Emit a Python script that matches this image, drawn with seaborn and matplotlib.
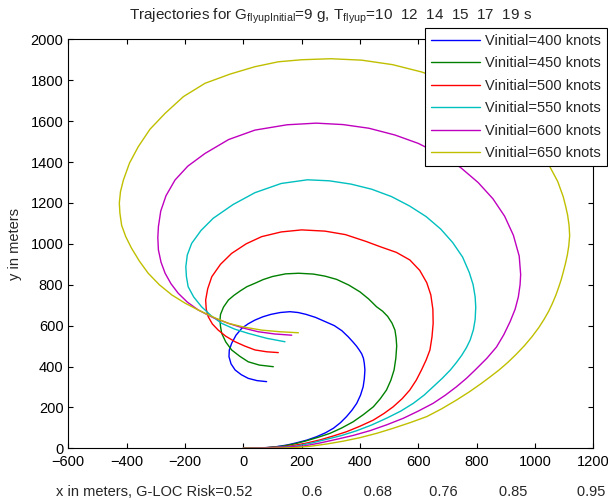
"""
plot.py - fly-up trajectories for several initial speeds (MATLAB-style figure)
"""
import numpy as np, pandas as pd
import matplotlib; matplotlib.use("Agg")
import matplotlib.pyplot as plt
import seaborn as sns

# ---- data (metres) ----
speeds = [400, 450, 500, 550, 600, 650]
labels = [f"Vinitial={s} knots" for s in speeds]
colors = ["#0000FF", "#008000", "#FF0000", "#00BFBF", "#BF00BF", "#BFBF00"]

x400 = [0, 30, 60, 87, 114, 150, 183, 218, 252, 282, 309, 333, 354, 373, 389, 402, 411, 415, 417, 415, 412, 406, 398, 388,
        376, 360, 338, 312, 280, 248, 215, 188, 160, 127, 95, 67, 40, 17, -5, -25, -40, -48, -49, -42, -28, -7, 17, 47, 80]
y400 = [0, 1, 2, 4, 8, 16, 27, 40, 57, 76, 98, 125, 155, 187, 220, 260, 301, 340, 383, 415, 440, 462, 480, 500,
        520, 545, 575, 600, 620, 640, 655, 664, 668, 664, 655, 643, 627, 609, 587, 553, 513, 480, 448, 413, 383, 360, 342, 331, 326]

x450 = [0, 35, 70, 103, 137, 177, 217, 257, 297, 337, 377, 412, 446, 470, 491, 506, 517, 523, 526, 524, 520, 510, 495, 478,
        457, 430, 400, 362, 320, 280, 240, 190, 145, 100, 68, 40, 12, -10, -32, -51, -68, -78, -80, -78, -74, -60, -40, -12, 17, 55, 103]
y450 = [0, 1, 2, 6, 11, 22, 37, 54, 73, 99, 130, 165, 203, 243, 285, 333, 383, 440, 500, 540, 578, 612, 645, 670,
        692, 730, 765, 798, 826, 842, 852, 856, 853, 840, 825, 807, 790, 770, 748, 725, 690, 655, 627, 595, 562, 520, 481, 450, 423, 407, 399]

x500 = [0, 40, 80, 120, 160, 212, 263, 308, 354, 400, 446, 482, 514, 545, 571, 593, 611, 627, 640, 647, 651, 650, 643, 629,
        605, 571, 525, 469, 420, 350, 280, 200, 130, 63, 10, -40, -78, -108, -122, -129, -127, -120, -106, -86, -60, -28, 5, 40, 80, 120]
y500 = [0, 1, 3, 6, 11, 24, 41, 60, 81, 108, 138, 170, 203, 243, 285, 333, 383, 432, 481, 545, 611, 680, 750, 810,
        870, 921, 958, 986, 1012, 1045, 1062, 1068, 1058, 1035, 1000, 953, 900, 839, 780, 725, 680, 643, 608, 578, 548, 521, 500, 481, 472, 468]

x550 = [0, 45, 90, 137, 183, 235, 286, 338, 389, 440, 491, 540, 583, 620, 651, 682, 710, 731, 749, 765, 778, 789, 795, 797,
        795, 788, 775, 752, 718, 677, 627, 570, 508, 440, 369, 295, 220, 130, 40, -35, -103, -145, -177, -192, -197, -195,
        -189, -170, -143, -110, -74, -30, 17, 80, 143]
y550 = [0, 1, 3, 6, 11, 26, 44, 63, 86, 114, 147, 182, 220, 260, 301, 342, 383, 420, 455, 492, 530, 580, 630, 690,
        740, 800, 859, 935, 1006, 1072, 1133, 1185, 1231, 1267, 1292, 1308, 1313, 1295, 1250, 1192, 1125, 1065, 1002, 945, 888, 840,
        790, 740, 692, 648, 611, 583, 562, 538, 521]

x600 = [0, 50, 100, 155, 206, 263, 320, 377, 434, 492, 549, 600, 651, 693, 731, 765, 795, 835, 868, 893, 915, 932, 943, 949,
        951, 946, 926, 896, 856, 805, 745, 675, 600, 520, 431, 342, 250, 150, 40, -50, -131, -190, -234, -265, -283, -291,
        -293, -291, -282, -268, -248, -223, -192, -154, -105, -51, 0, 51, 108, 166]
y600 = [0, 1, 3, 6, 11, 26, 44, 63, 86, 115, 147, 182, 220, 260, 301, 342, 383, 440, 495, 555, 620, 680, 740, 800,
        850, 940, 1042, 1135, 1220, 1300, 1373, 1437, 1491, 1532, 1565, 1583, 1590, 1582, 1556, 1510, 1442, 1380, 1312, 1235, 1160, 1084,
        1030, 970, 910, 856, 805, 758, 715, 676, 640, 611, 588, 570, 559, 553]

x650 = [0, 60, 120, 171, 230, 286, 343, 400, 457, 514, 571, 629, 680, 731, 775, 817, 847, 877, 907, 936, 964, 990, 1013, 1031,
        1047, 1060, 1072, 1082, 1090, 1096, 1104, 1111, 1116, 1119, 1117, 1112, 1105, 1097, 1078, 1051, 1010, 950, 880, 800,
        710, 612, 512, 406, 300, 200, 120, 40, -45, -131, -205, -268, -320, -360, -390, -411, -421, -425, -423, -417, -403,
        -383, -356, -326, -288, -245, -200, -154, -104, -51, 5, 63, 125, 189]
y650 = [0, 0, 1, 3, 10, 21, 35, 52, 73, 98, 125, 155, 193, 236, 276, 318, 350, 383, 420, 460, 502, 546, 590, 630,
        670, 709, 750, 790, 825, 856, 900, 945, 990, 1040, 1090, 1140, 1185, 1230, 1305, 1377, 1477, 1570, 1655, 1730,
        1790, 1840, 1876, 1898, 1905, 1900, 1890, 1866, 1830, 1785, 1720, 1638, 1560, 1475, 1395, 1312, 1255, 1200, 1150, 1090, 1035,
        978, 915, 856, 800, 750, 710, 676, 642, 611, 592, 578, 570, 565]

xs = [x400, x450, x500, x550, x600, x650]
ys = [y400, y450, y500, y550, y600, y650]

xticks = list(range(-600, 1201, 200))
yticks = list(range(0, 2001, 200))
risk_txt = ["0.52", "0.6", "0.68", "0.76", "0.85", "0.95"]
tflyup = [10, 12, 14, 15, 17, 19]

sns.set_style("ticks")
plt.rcParams.update({"font.family": ["Liberation Sans", "DejaVu Sans"], "font.size": 10.5,
                     "mathtext.fontset": "custom", "mathtext.rm": "Liberation Sans",
                     "mathtext.it": "Liberation Sans", "axes.linewidth": 0.8,
                     "xtick.direction": "in", "ytick.direction": "in",
                     "xtick.top": True, "ytick.right": True})

rows = []
for lab, x, y in zip(labels, xs, ys):
    for i, (a, b) in enumerate(zip(x, y)):
        rows.append({"curve": lab, "step": i, "x": a, "y": b})
df = pd.DataFrame(rows)

fig = plt.figure(figsize=(6.08, 5.0), dpi=100)
ax = fig.add_axes([0.1123, 0.1034, 0.8635, 0.818])
sns.lineplot(data=df, x="x", y="y", hue="curve", hue_order=labels,
             palette=dict(zip(labels, colors)), sort=False, estimator=None,
             lw=1.0, ax=ax)

ax.set_xlim(-600, 1200); ax.set_ylim(0, 2000)
ax.set_xticks(xticks); ax.set_yticks(yticks)
ax.tick_params(length=3.5, width=0.8, colors="black", labelsize=10.5)
ax.tick_params(axis="x", pad=5)
for s in ax.spines.values():
    s.set_visible(True); s.set_color("black")

sp = ["            ", "          ", "         ", "          ", "            "]
xl = "x in meters, G-LOC Risk=" + risk_txt[0]
for g, r in zip(sp, risk_txt[1:]):
    xl += g + r
ax.set_xlabel(xl, labelpad=11)
ax.set_ylabel("y in meters", labelpad=6)
tt = "  ".join(str(t) for t in tflyup)
ax.set_title(r"Trajectories for G$_{\mathrm{flyupInitial}}$=9 g, T$_{\mathrm{flyup}}$=" + tt + " s",
             fontsize=11, pad=14)

h, l = ax.get_legend_handles_labels()
leg = ax.legend(h, l, loc="upper right", bbox_to_anchor=(607/608, 1 - 28/500),
                bbox_transform=fig.transFigure, borderaxespad=0, fancybox=False,
                framealpha=1, edgecolor="black", fontsize=10.5, handlelength=3.4,
                handletextpad=0.35, labelspacing=0.58, borderpad=0.4)
leg.get_frame().set_linewidth(0.8)
for ln in leg.get_lines():
    ln.set_linewidth(1.0)

fig.savefig("out.png", dpi=100)
